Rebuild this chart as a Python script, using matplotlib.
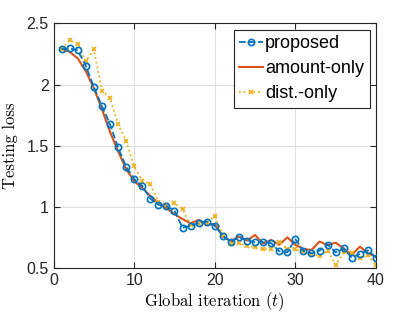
import numpy as np
import matplotlib
matplotlib.use("Agg")
import matplotlib.pyplot as plt

# global iterations
t = np.arange(1, 41)

proposed = [2.29, 2.295, 2.28, 2.154, 1.98, 1.824, 1.677, 1.486, 1.328, 1.228,
            1.171, 1.067, 1.018, 1.007, 0.969, 0.83, 0.844, 0.868, 0.88, 0.845,
            0.765, 0.713, 0.754, 0.724, 0.711, 0.71, 0.703, 0.637, 0.628, 0.735,
            0.64, 0.62, 0.642, 0.692, 0.628, 0.66, 0.583, 0.615, 0.644, 0.585]

amount_only = [2.29, 2.268, 2.214, 2.11, 1.969, 1.80, 1.614, 1.455, 1.31, 1.21,
               1.155, 1.09, 1.03, 0.99, 0.94, 0.90, 0.866, 0.893, 0.852, 0.86,
               0.757, 0.721, 0.757, 0.724, 0.77, 0.70, 0.73, 0.69, 0.75, 0.69,
               0.655, 0.648, 0.716, 0.688, 0.707, 0.66, 0.607, 0.675, 0.62, 0.593]

dist_only = [2.29, 2.364, 2.33, 2.19, 2.287, 1.95, 1.89, 1.675, 1.54, 1.33,
             1.21, 1.187, 1.043, 1.016, 1.029, 0.982, 0.848, 0.863, 0.87, 0.922,
             0.77, 0.70, 0.705, 0.68, 0.67, 0.654, 0.654, 0.716, 0.655, 0.656,
             0.634, 0.613, 0.60, 0.642, 0.525, 0.632, 0.625, 0.58, 0.605, 0.528]

xticks = [0, 10, 20, 30, 40]
yticks = [0.5, 1, 1.5, 2, 2.5]
ytick_labels = ["0.5", "1", "1.5", "2", "2.5"]

plt.rcParams['font.family'] = ['Liberation Sans', 'DejaVu Sans']
plt.rcParams['mathtext.fontset'] = 'cm'

fig = plt.figure(figsize=(4.15, 3.12), dpi=100)
ax = fig.add_axes([0.129, 0.141, 0.777, 0.784])

ax.plot(t, proposed, color='#0072BD', linestyle='--', linewidth=1.3,
        marker='o', markersize=4.5, markerfacecolor='none', markeredgewidth=1.2,
        label='proposed', zorder=3)
ax.plot(t, amount_only, color='#D95319', linestyle='-', linewidth=1.5,
        label='amount-only', zorder=2)
ax.plot(t, dist_only, color='#EDB120', linestyle=':', linewidth=1.3,
        marker='x', markersize=3, markeredgewidth=1.2,
        label='dist.-only', zorder=2)

ax.set_xlim(0, 40)
ax.set_ylim(0.5, 2.5)
ax.set_xticks(xticks)
ax.set_yticks(yticks)
ax.set_yticklabels(ytick_labels)
ax.grid(True, color='#e0e0e0', linewidth=0.8)
ax.set_axisbelow(True)
ax.tick_params(direction='in', top=True, right=True, labelsize=11.5,
               colors='#262626', length=4, width=0.8)
for s in ax.spines.values():
    s.set_color('#262626')
    s.set_linewidth(0.8)

ax.set_xlabel('Global iteration ($t$)', family='cmr10', fontsize=12, labelpad=2)
ax.set_ylabel('Testing loss', family='cmr10', fontsize=12, labelpad=6)

leg = ax.legend(loc='upper right', fontsize=13, handlelength=1.3,
                handletextpad=0.15, borderpad=0.3, labelspacing=0.45,
                borderaxespad=0.35, fancybox=False, framealpha=1)
leg.get_frame().set_edgecolor('#262626')
leg.get_frame().set_linewidth(0.8)

fig.savefig('out.png', dpi=100)
